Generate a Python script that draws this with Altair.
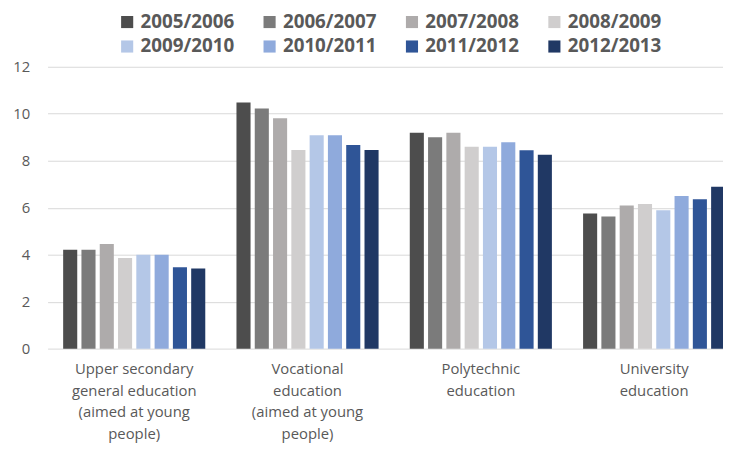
import altair as alt
import pandas as pd

categories = [
    "Upper secondary\ngeneral education\n(aimed at young\npeople)",
    "Vocational\neducation\n(aimed at young\npeople)",
    "Polytechnic\neducation",
    "University\neducation",
]
series = ["2005/2006", "2006/2007", "2007/2008", "2008/2009",
          "2009/2010", "2010/2011", "2011/2012", "2012/2013"]
colors = ["#4d4d4d", "#7b7b7b", "#aeabab", "#d0cece",
          "#b4c7e7", "#8faadc", "#2f5597", "#203864"]

v2005 = [4.21, 10.48, 9.19, 5.75]
v2006 = [4.21, 10.22, 9.00, 5.63]
v2007 = [4.46, 9.81, 9.19, 6.09]
v2008 = [3.86, 8.46, 8.59, 6.16]
v2009 = [4.00, 9.08, 8.59, 5.89]
v2010 = [4.00, 9.08, 8.79, 6.50]
v2011 = [3.47, 8.67, 8.45, 6.36]
v2012 = [3.41, 8.46, 8.25, 6.89]
values = [v2005, v2006, v2007, v2008, v2009, v2010, v2011, v2012]

rows = []
for s, vals in zip(series, values):
    for c, v in zip(categories, vals):
        rows.append({"category": c, "series": s, "value": v})
df = pd.DataFrame(rows)

FONT = "Open Sans"
TXT = "#595959"

chart = alt.Chart(df).mark_bar().encode(
    x=alt.X("category:N", sort=categories, title=None,
            scale=alt.Scale(range=[3, 704], paddingInner=0.18, paddingOuter=0.09),
            axis=alt.Axis(labelAngle=0, domain=False, ticks=False,
                          labelExpr="split(datum.label, '\\n')",
                          labelFont=FONT, labelFontSize=15, labelColor=TXT,
                          labelLineHeight=22, labelPadding=13, labelLimit=300)),
    xOffset=alt.XOffset("series:N", sort=series,
                        scale=alt.Scale(paddingInner=0.23)),
    y=alt.Y("value:Q", title=None,
            scale=alt.Scale(domain=[0, 12]),
            axis=alt.Axis(values=[0, 2, 4, 6, 8, 10, 12], domain=False, ticks=False,
                          grid=True, gridColor="#d9d9d9", gridWidth=1,
                          labelFont=FONT, labelFontSize=15, labelColor=TXT,
                          labelPadding=15)),
    color=alt.Color("series:N", sort=series, title=None,
                    scale=alt.Scale(domain=series, range=colors),
                    legend=alt.Legend(orient="none", legendX=74, legendY=-55,
                                      direction="horizontal", columns=4,
                                      symbolType="square", symbolSize=150,
                                      symbolStrokeWidth=0,
                                      labelFont=FONT, labelFontSize=19,
                                      labelFontWeight="bold", labelColor=TXT,
                                      labelOffset=4, columnPadding=26,
                                      rowPadding=5, labelLimit=300)),
).properties(
    width=686, height=285,
    autosize=alt.AutoSizeParams(type="none"),
    padding={"left": 37, "top": 57, "right": 0, "bottom": 94},
).configure_view(stroke=None)

chart.save("out.html", embed_options={"renderer": "svg", "actions": False})
